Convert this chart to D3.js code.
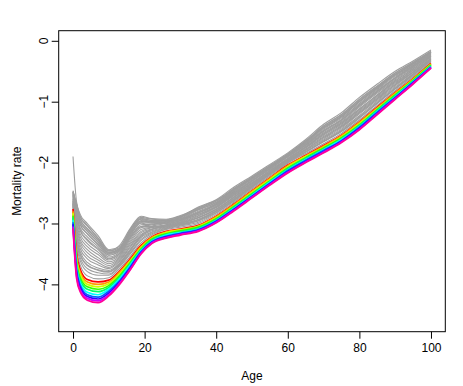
<!DOCTYPE html>
<html>
<head>
<meta charset="utf-8">
<script src="https://cdn.jsdelivr.net/npm/d3@7"></script>
<style>
  body { margin: 0; background: #fff; }
  text { font-family: "Liberation Sans", Arial, Helvetica, sans-serif; font-size: 12px; fill: #000; }
</style>
</head>
<body>
<svg id="chart"></svg>
<script>
const ages = [0, 1, 2, 4, 7, 10, 13, 16, 19, 22, 26, 30, 35, 40, 45, 50, 55, 60, 65, 70, 75, 80, 85, 90, 95, 100];

// older years, drawn in grey
const grayCurves = [
  [-1.90,-2.65,-2.85,-3.00,-3.20,-3.43,-3.38,-3.10,-2.92,-2.95,-2.96,-2.89,-2.73,-2.61,-2.40,-2.22,-2.03,-1.84,-1.62,-1.37,-1.18,-0.93,-0.71,-0.50,-0.33,-0.15],
  [-2.48,-2.68,-2.88,-3.03,-3.24,-3.45,-3.36,-3.08,-2.88,-2.92,-2.93,-2.87,-2.75,-2.63,-2.42,-2.24,-2.05,-1.86,-1.65,-1.40,-1.21,-0.96,-0.74,-0.53,-0.35,-0.18],
  [-2.46,-2.69,-2.89,-3.04,-3.24,-3.45,-3.40,-3.10,-2.90,-2.93,-2.94,-2.88,-2.74,-2.62,-2.44,-2.26,-2.07,-1.88,-1.66,-1.43,-1.24,-0.99,-0.77,-0.56,-0.38,-0.19],
  [-2.48,-2.73,-2.93,-3.09,-3.27,-3.48,-3.42,-3.13,-2.92,-2.95,-2.95,-2.89,-2.76,-2.63,-2.43,-2.24,-2.05,-1.86,-1.64,-1.40,-1.21,-0.97,-0.75,-0.53,-0.36,-0.17],
  [-2.49,-2.77,-2.97,-3.13,-3.31,-3.50,-3.43,-3.15,-2.95,-2.96,-2.96,-2.90,-2.77,-2.65,-2.44,-2.25,-2.06,-1.87,-1.65,-1.42,-1.23,-0.99,-0.76,-0.55,-0.37,-0.18],
  [-2.50,-2.80,-3.02,-3.17,-3.34,-3.52,-3.45,-3.17,-2.97,-2.97,-2.96,-2.91,-2.78,-2.66,-2.45,-2.26,-2.07,-1.87,-1.67,-1.43,-1.25,-1.00,-0.78,-0.56,-0.38,-0.19],
  [-2.52,-2.85,-3.07,-3.22,-3.38,-3.55,-3.47,-3.20,-2.99,-2.99,-2.97,-2.92,-2.80,-2.67,-2.47,-2.27,-2.08,-1.88,-1.68,-1.45,-1.27,-1.03,-0.80,-0.58,-0.40,-0.20],
  [-2.54,-2.90,-3.12,-3.28,-3.43,-3.58,-3.50,-3.23,-3.02,-3.01,-2.98,-2.93,-2.82,-2.69,-2.48,-2.29,-2.09,-1.89,-1.69,-1.47,-1.29,-1.05,-0.82,-0.60,-0.41,-0.21],
  [-2.55,-2.94,-3.17,-3.33,-3.47,-3.60,-3.52,-3.25,-3.05,-3.02,-2.99,-2.94,-2.83,-2.70,-2.50,-2.30,-2.10,-1.90,-1.71,-1.49,-1.31,-1.07,-0.84,-0.62,-0.43,-0.23],
  [-2.57,-2.99,-3.22,-3.38,-3.51,-3.63,-3.54,-3.28,-3.07,-3.04,-3.00,-2.95,-2.85,-2.72,-2.51,-2.31,-2.11,-1.91,-1.72,-1.51,-1.33,-1.09,-0.86,-0.64,-0.44,-0.24],
  [-2.59,-3.04,-3.27,-3.43,-3.56,-3.66,-3.56,-3.31,-3.10,-3.06,-3.02,-2.97,-2.87,-2.73,-2.53,-2.33,-2.13,-1.93,-1.74,-1.53,-1.35,-1.12,-0.89,-0.66,-0.46,-0.25],
  [-2.60,-3.08,-3.31,-3.48,-3.60,-3.69,-3.58,-3.34,-3.13,-3.07,-3.03,-2.98,-2.88,-2.74,-2.54,-2.34,-2.14,-1.94,-1.75,-1.55,-1.37,-1.14,-0.91,-0.68,-0.48,-0.26],
  [-2.62,-3.13,-3.36,-3.53,-3.64,-3.72,-3.60,-3.37,-3.15,-3.09,-3.04,-2.99,-2.90,-2.76,-2.56,-2.35,-2.15,-1.95,-1.76,-1.57,-1.39,-1.16,-0.93,-0.70,-0.49,-0.27],
  [-2.63,-3.17,-3.41,-3.58,-3.68,-3.74,-3.62,-3.39,-3.18,-3.10,-3.05,-3.00,-2.91,-2.77,-2.57,-2.36,-2.16,-1.96,-1.78,-1.59,-1.41,-1.18,-0.95,-0.72,-0.51,-0.29],
  [-2.65,-3.22,-3.46,-3.64,-3.73,-3.77,-3.65,-3.42,-3.21,-3.12,-3.06,-3.01,-2.93,-2.79,-2.59,-2.38,-2.17,-1.97,-1.79,-1.61,-1.43,-1.20,-0.97,-0.74,-0.52,-0.30],
  [-2.67,-3.27,-3.51,-3.69,-3.77,-3.80,-3.67,-3.45,-3.23,-3.14,-3.07,-3.02,-2.95,-2.80,-2.60,-2.39,-2.18,-1.98,-1.80,-1.63,-1.45,-1.23,-0.99,-0.76,-0.54,-0.31],
  [-2.68,-3.31,-3.56,-3.74,-3.81,-3.83,-3.69,-3.48,-3.26,-3.15,-3.08,-3.03,-2.96,-2.82,-2.62,-2.40,-2.19,-1.99,-1.82,-1.65,-1.47,-1.25,-1.01,-0.78,-0.55,-0.32],
  [-2.70,-3.36,-3.61,-3.79,-3.85,-3.85,-3.71,-3.50,-3.28,-3.17,-3.09,-3.04,-2.98,-2.83,-2.63,-2.41,-2.20,-2.00,-1.83,-1.66,-1.49,-1.27,-1.03,-0.79,-0.57,-0.33],
  [-2.72,-3.42,-3.68,-3.86,-3.91,-3.89,-3.74,-3.54,-3.32,-3.19,-3.10,-3.06,-3.00,-2.85,-2.65,-2.43,-2.22,-2.01,-1.85,-1.69,-1.52,-1.30,-1.06,-0.82,-0.59,-0.35],
  [-2.53,-2.88,-3.10,-3.26,-3.41,-3.57,-3.49,-3.22,-3.05,-3.06,-3.05,-3.01,-2.94,-2.80,-2.61,-2.40,-2.19,-1.99,-1.82,-1.65,-1.48,-1.26,-1.02,-0.79,-0.56,-0.33],
  [-2.66,-3.25,-3.50,-3.68,-3.76,-3.79,-3.66,-3.44,-3.20,-3.10,-3.02,-2.95,-2.82,-2.68,-2.46,-2.27,-2.07,-1.88,-1.66,-1.43,-1.25,-1.00,-0.78,-0.56,-0.38,-0.19],
  [-2.47,-2.72,-2.93,-3.08,-3.27,-3.47,-3.41,-3.13,-2.93,-2.98,-3.00,-2.96,-2.85,-2.72,-2.52,-2.33,-2.13,-1.93,-1.74,-1.53,-1.35,-1.12,-0.89,-0.66,-0.46,-0.25],
  [-2.51,-2.81,-3.01,-3.17,-3.35,-3.52,-3.45,-3.18,-2.99,-3.05,-3.04,-2.99,-2.90,-2.77,-2.57,-2.37,-2.16,-1.96,-1.78,-1.59,-1.41,-1.18,-0.95,-0.72,-0.51,-0.29],
  [-2.49,-2.76,-2.98,-3.12,-3.30,-3.49,-3.43,-3.15,-2.96,-2.99,-2.98,-2.93,-2.82,-2.69,-2.49,-2.30,-2.10,-1.90,-1.70,-1.48,-1.30,-1.06,-0.83,-0.61,-0.42,-0.22]
];

// most recent years, drawn in rainbow colours (red first, pink last)
const rainbowCurves = [
  [-2.76,-3.50,-3.75,-3.92,-3.96,-3.93,-3.78,-3.58,-3.36,-3.22,-3.13,-3.09,-3.03,-2.88,-2.68,-2.46,-2.25,-2.04,-1.88,-1.72,-1.55,-1.33,-1.09,-0.85,-0.62,-0.37],
  [-2.80,-3.55,-3.80,-3.96,-4.00,-3.96,-3.80,-3.60,-3.38,-3.23,-3.14,-3.10,-3.04,-2.89,-2.69,-2.47,-2.26,-2.05,-1.89,-1.73,-1.56,-1.34,-1.10,-0.86,-0.63,-0.38],
  [-2.83,-3.59,-3.84,-4.00,-4.04,-3.99,-3.83,-3.62,-3.40,-3.25,-3.15,-3.11,-3.05,-2.91,-2.71,-2.49,-2.28,-2.07,-1.90,-1.75,-1.58,-1.36,-1.12,-0.88,-0.64,-0.39],
  [-2.87,-3.64,-3.89,-4.04,-4.08,-4.02,-3.86,-3.64,-3.42,-3.26,-3.17,-3.12,-3.06,-2.92,-2.72,-2.51,-2.30,-2.09,-1.92,-1.76,-1.59,-1.38,-1.13,-0.89,-0.65,-0.40],
  [-2.90,-3.68,-3.93,-4.08,-4.12,-4.05,-3.89,-3.66,-3.43,-3.27,-3.18,-3.14,-3.08,-2.94,-2.73,-2.52,-2.31,-2.10,-1.93,-1.78,-1.61,-1.39,-1.14,-0.90,-0.66,-0.41],
  [-2.94,-3.72,-3.97,-4.13,-4.17,-4.08,-3.91,-3.68,-3.45,-3.29,-3.19,-3.15,-3.09,-2.95,-2.75,-2.54,-2.32,-2.12,-1.95,-1.79,-1.62,-1.41,-1.16,-0.92,-0.67,-0.42],
  [-2.98,-3.77,-4.01,-4.17,-4.21,-4.11,-3.94,-3.71,-3.46,-3.30,-3.21,-3.16,-3.10,-2.96,-2.76,-2.55,-2.34,-2.13,-1.96,-1.80,-1.64,-1.42,-1.17,-0.93,-0.68,-0.43],
  [-3.01,-3.81,-4.05,-4.20,-4.24,-4.14,-3.96,-3.73,-3.48,-3.31,-3.22,-3.17,-3.11,-2.97,-2.77,-2.56,-2.35,-2.15,-1.98,-1.82,-1.65,-1.44,-1.19,-0.94,-0.69,-0.44],
  [-3.05,-3.86,-4.09,-4.23,-4.27,-4.17,-3.98,-3.75,-3.49,-3.32,-3.23,-3.18,-3.12,-2.98,-2.78,-2.57,-2.36,-2.16,-1.99,-1.83,-1.66,-1.45,-1.20,-0.95,-0.70,-0.44],
  [-3.08,-3.90,-4.12,-4.26,-4.30,-4.19,-4.00,-3.76,-3.50,-3.33,-3.24,-3.19,-3.13,-2.99,-2.79,-2.58,-2.37,-2.17,-2.00,-1.84,-1.67,-1.46,-1.21,-0.96,-0.71,-0.45]
];

const xTicks = [0, 20, 40, 60, 80, 100];
const yTicks = [0, -1, -2, -3, -4];

const width = 463, height = 386;
const plot = { left: 58.7, right: 445.3, top: 30.7, bottom: 331.7 };

let svg = d3.select("#chart")
    .attr("width", width)
    .attr("height", height);

let x = d3.scaleLinear().domain([-4, 104]).range([plot.left, plot.right]);
let y = d3.scaleLinear().domain([-4.777, 0.166]).range([plot.bottom, plot.top]);

let line = d3.line()
    .x((d, i) => x(ages[i]))
    .y(d => y(d))
    .curve(d3.curveMonotoneX);

svg.append("g")
    .selectAll("path")
    .data(grayCurves)
    .join("path")
    .attr("d", line)
    .attr("fill", "none")
    .attr("stroke", "#9e9e9e")
    .attr("stroke-width", 1.1);

let rainbow = rainbowCurves.map((d, i) => d3.hsl(360 * i / rainbowCurves.length, 1, 0.5).formatHex());

svg.append("g")
    .selectAll("path")
    .data(rainbowCurves)
    .join("path")
    .attr("d", line)
    .attr("fill", "none")
    .attr("stroke", (d, i) => rainbow[i])
    .attr("stroke-width", 1.7);

// box round the plot region
svg.append("rect")
    .attr("x", plot.left)
    .attr("y", plot.top)
    .attr("width", plot.right - plot.left)
    .attr("height", plot.bottom - plot.top)
    .attr("fill", "none")
    .attr("stroke", "#000")
    .attr("stroke-width", 1);

// x axis
let xAxis = svg.append("g")
    .attr("transform", `translate(0,${plot.bottom})`)
    .call(d3.axisBottom(x).tickValues(xTicks).tickSize(7).tickPadding(5));
xAxis.select(".domain").remove();
xAxis.selectAll("text").style("font-size", "12px").style("font-family", null);
xAxis.selectAll("line").attr("stroke", "#000");

// y axis, labels parallel to the axis as in R
let yAxis = svg.append("g")
    .attr("transform", `translate(${plot.left},0)`)
    .call(d3.axisLeft(y).tickValues(yTicks).tickSize(7).tickFormat(""));
yAxis.select(".domain").remove();
yAxis.selectAll("line").attr("stroke", "#000");

svg.append("g")
    .selectAll("text")
    .data(yTicks)
    .join("text")
    .attr("transform", d => `translate(48,${y(d)}) rotate(-90)`)
    .attr("text-anchor", "middle")
    .text(d => d === 0 ? "0" : "\u2212" + Math.abs(d));

svg.append("text")
    .attr("x", (plot.left + plot.right) / 2)
    .attr("y", 380.3)
    .attr("text-anchor", "middle")
    .text("Age");

svg.append("text")
    .attr("transform", `translate(20.5,${(plot.top + plot.bottom) / 2}) rotate(-90)`)
    .attr("text-anchor", "middle")
    .text("Mortality rate");
</script>
</body>
</html>
